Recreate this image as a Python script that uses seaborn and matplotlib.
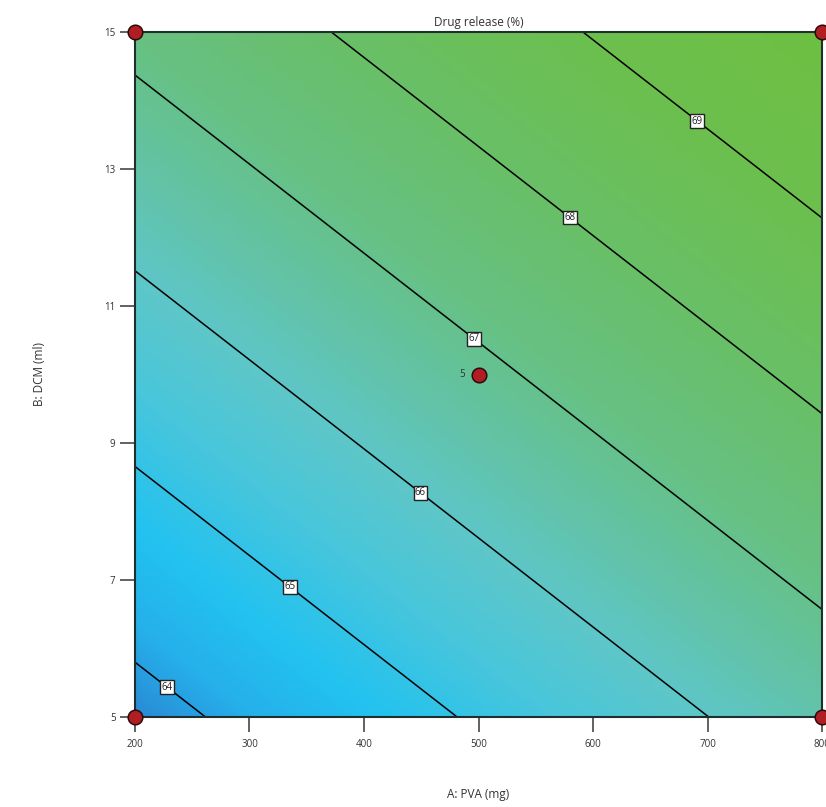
import numpy as np
import pandas as pd
import seaborn as sns
import matplotlib.pyplot as plt
from matplotlib.colors import LinearSegmentedColormap

# Datos (superficie de respuesta)
pva = [200, 800]
dcm = [5, 15]
release = [[63.72, 66.45],
           [67.22, 69.95]]

# Puntos del diseño
design_pva = [200, 800, 200, 800, 500]
design_dcm = [5, 5, 15, 15, 10]
center_reps = "5"

contour_levels = [64, 65, 66, 67, 68, 69]
label_pos = [(231, 5.50), (338, 6.96), (452, 8.33), (499, 10.58), (582, 12.34), (693, 13.74)]

sns.set_theme(style="white")
plt.rcParams['font.family'] = ['Open Sans', 'DejaVu Sans']

fig = plt.figure(figsize=(8.26, 8.07), dpi=100)
ax = fig.add_axes([135 / 826, 90 / 807, 687 / 826, 685 / 807])

# Mapa de colores tipo Design-Expert (azul -> cian -> verde)
vmin, vmax = 63.72, 69.95
stops = [(63.72, '#2a88d4'), (64.2, '#26b0ea'), (64.7, '#22c2f0'), (65.4, '#48c6dc'),
         (66.0, '#5ec6c8'), (66.6, '#63c3a4'), (67.2, '#67c183'), (68.0, '#69bf68'),
         (69.0, '#6cbf4e'), (69.95, '#6ebf42')]
cmap = LinearSegmentedColormap.from_list(
    'de', [((v - vmin) / (vmax - vmin), c) for v, c in stops])

# Degradado: imagen 2x2 con interpolación bilineal (centros de píxel en las esquinas)
dx = (pva[1] - pva[0]) / 2
dy = (dcm[1] - dcm[0]) / 2
ax.imshow(np.array(release), origin='lower', cmap=cmap, vmin=vmin, vmax=vmax,
          extent=[pva[0] - dx, pva[1] + dx, dcm[0] - dy, dcm[1] + dy],
          interpolation='bilinear', interpolation_stage='data', aspect='auto')

X, Y = np.meshgrid(pva, dcm)
cs = ax.contour(X, Y, np.array(release), levels=contour_levels, colors='black', linewidths=1.1)
labels = ax.clabel(cs, fmt='%d', manual=label_pos, inline=False, fontsize=7)
for t in labels:
    t.set_rotation(0)
    t.set_bbox(dict(facecolor='white', edgecolor='#222222', boxstyle='square,pad=0.15', linewidth=1))
    t.set_color('#222222')
    t.set_zorder(5)

# Puntos del diseño
pts = pd.DataFrame({'A': design_pva, 'B': design_dcm})
sns.scatterplot(data=pts, x='A', y='B', ax=ax, s=110, color='#b01e24',
                edgecolor='#2a0a0a', linewidth=1.1, clip_on=False, zorder=10, legend=False)
ax.annotate(center_reps, (design_pva[4], design_dcm[4]), xytext=(-12, 0),
            textcoords='offset points', ha='center', va='center', fontsize=7, color='#333333')

ax.set_xlim(200, 800)
ax.set_ylim(5, 15)
ax.set_xticks([200, 300, 400, 500, 600, 700, 800])
ax.set_yticks([5, 7, 9, 11, 13, 15])
ax.tick_params(axis='both', which='major', length=11, width=1.3, color='#555555',
               labelsize=7, labelcolor='#333333', bottom=True, left=True)
ax.tick_params(axis='x', pad=5)
ax.tick_params(axis='y', pad=3)
for sp in ax.spines.values():
    sp.set_color('#1f2f2f')
    sp.set_linewidth(1.5)

ax.set_title('Drug release (%)', fontsize=8.5, color='#333333', pad=4)
ax.set_xlabel('A: PVA (mg)', fontsize=8.5, color='#333333', labelpad=27)
ax.set_ylabel('B: DCM (ml)', fontsize=8.5, color='#333333', labelpad=42)

plt.savefig('out.png', dpi=100)
